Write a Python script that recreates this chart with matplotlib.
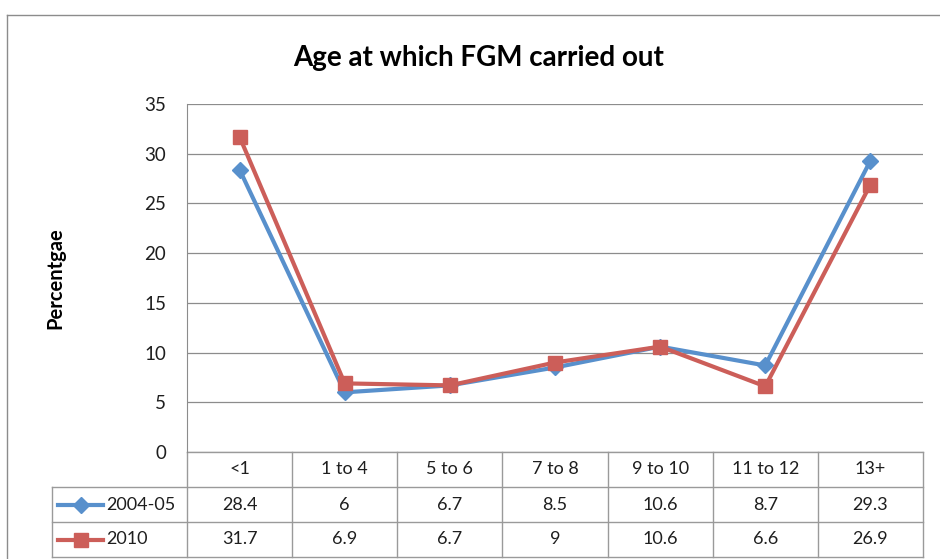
import matplotlib.pyplot as plt
from matplotlib.transforms import blended_transform_factory
from matplotlib.lines import Line2D

plt.rcParams['font.family'] = ['Lato', 'DejaVu Sans']

categories = ["<1", "1 to 4", "5 to 6", "7 to 8", "9 to 10", "11 to 12", "13+"]
series_names = ["2004-05", "2010"]
values_0405 = [28.4, 6, 6.7, 8.5, 10.6, 8.7, 29.3]
values_2010 = [31.7, 6.9, 6.7, 9, 10.6, 6.6, 26.9]
yticks = [0, 5, 10, 15, 20, 25, 30, 35]

blue = "#5890cc"
red = "#cc5e59"
grid_col = "#8c8c8c"
txt_col = "#1e1e1e"

W, H = 940, 559
fig = plt.figure(figsize=(W / 100, H / 100), dpi=100)

# plot area in pixels
left, right, top, bottom = 187, 923, 104, 452
ax = fig.add_axes([left / W, (H - bottom) / H, (right - left) / W, (bottom - top) / H])

x = list(range(len(categories)))
ax.plot(x, values_0405, color=blue, lw=3, marker="D", ms=8, zorder=3)
ax.plot(x, values_2010, color=red, lw=3, marker="s", ms=10, zorder=3)

ax.set_xlim(-0.5, len(categories) - 0.5)
ax.set_ylim(0, 35)
ax.set_yticks(yticks)
ax.set_yticklabels([str(v) for v in yticks], fontsize=13.5, color=txt_col)
ax.set_xticks([])
ax.tick_params(axis="y", length=0, pad=15)
ax.yaxis.grid(True, color=grid_col, lw=0.9)
ax.set_axisbelow(True)
for s in ["top", "right", "bottom"]:
    ax.spines[s].set_visible(False)
ax.spines["left"].set_color(grid_col)

fig.text(55 / W, 1 - 278 / H, "Percentgae", fontsize=14.5, fontweight="bold",
         rotation=90, ha="center", va="center")
fig.text(479 / W, 1 - 58 / H, "Age at which FGM carried out", fontsize=20,
         fontweight="bold", ha="center", va="center")

# data table below axes: x in data units, y in axes fraction
tr = blended_transform_factory(ax.transData, ax.transAxes)
row_h = 35 / (bottom - top)
px = (right - left) / len(categories)  # pixels per category
label_left = -0.5 - (left - 52) / px
n = len(categories)
lc = "#9a9a9a"
fs = 13

def hline(x0, x1, y):
    ax.add_line(Line2D([x0, x1], [y, y], transform=tr, color=lc, lw=1, clip_on=False))

def vline(xv, y0, y1):
    ax.add_line(Line2D([xv, xv], [y0, y1], transform=tr, color=lc, lw=1, clip_on=False))

y0 = 0
y1 = -row_h
y2 = -2 * row_h
y3 = -3 * row_h
hline(-0.5, n - 0.5, y0)
hline(label_left, n - 0.5, y1)
hline(label_left, n - 0.5, y2)
hline(label_left, n - 0.5, y3)
for i in range(n + 1):
    vline(i - 0.5, y3, y0)
vline(label_left, y3, y1)

for i, c in enumerate(categories):
    ax.text(i, (y0 + y1) / 2, c, transform=tr, ha="center", va="center", fontsize=fs, color=txt_col)
    ax.text(i, (y1 + y2) / 2, f"{values_0405[i]:g}", transform=tr, ha="center", va="center", fontsize=fs, color=txt_col)
    ax.text(i, (y2 + y3) / 2, f"{values_2010[i]:g}", transform=tr, ha="center", va="center", fontsize=fs, color=txt_col)

# legend keys inside the table
key_x0 = -0.5 - (left - 58) / px
key_x1 = -0.5 - (left - 103) / px
key_xm = (key_x0 + key_x1) / 2
text_x = -0.5 - (left - 106) / px
for yc, col, mk, ms, name in [((y1 + y2) / 2, blue, "D", 8, series_names[0]),
                              ((y2 + y3) / 2, red, "s", 10, series_names[1])]:
    ax.add_line(Line2D([key_x0, key_x1], [yc, yc], transform=tr, color=col, lw=3, clip_on=False))
    ax.add_line(Line2D([key_xm], [yc], transform=tr, color=col, marker=mk, ms=ms, lw=0, clip_on=False))
    ax.text(text_x, yc, name, transform=tr, ha="left", va="center", fontsize=fs, color=txt_col)

# outer chart border (cut off at right/bottom)
fig.add_artist(Line2D([7 / W, 1], [1 - 15 / H, 1 - 15 / H], color=grid_col, lw=1))
fig.add_artist(Line2D([7 / W, 7 / W], [1 - 15 / H, 0], color=grid_col, lw=1))

fig.savefig("out.png", dpi=100)
